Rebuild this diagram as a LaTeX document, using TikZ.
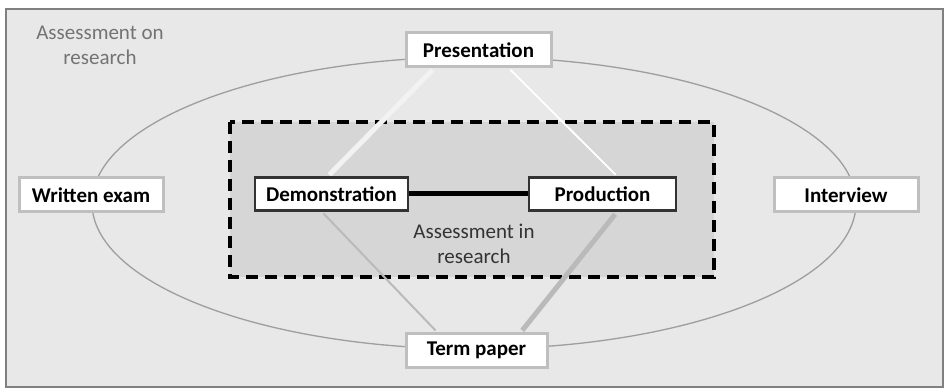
\documentclass[tikz,border=0pt]{standalone}
\usepackage{fontspec}
\setmainfont{Carlito}
\begin{document}
\begin{tikzpicture}[x=1pt,y=-1pt,
  outerbox/.style={draw=white!75!black,line width=3pt,fill=white,inner sep=0pt,minimum height=34pt,font=\bfseries\fontsize{21}{24}\selectfont},
  innerbox/.style={draw=black!80,line width=2.8pt,fill=white,inner sep=0pt,minimum height=33pt,font=\bfseries\fontsize{21}{24}\selectfont},
  note/.style={align=center,font=\fontsize{21}{25}\selectfont}]
\useasboundingbox (0,0) rectangle (948,390);
\fill[white] (0,0) rectangle (948,390);
\draw[draw=black!50,fill=black!9,line width=2pt] (6,9) rectangle (943,387);
\node[note,text=black!55] (aon) at (100,45) {Assessment on\\research};
\draw[black!38,line width=1.3pt] (474,203) ellipse [x radius=382, y radius=146];
\draw[fill=black!16,dash pattern=on 12pt off 7pt,line width=3.2pt] (230,122) rectangle (714,277);
\node[note,text=black!80] (ain) at (474,244) {Assessment in\\research};
\node[outerbox,minimum width=145pt] (pres) at (478.5,50) {Presentation};
\node[outerbox,minimum width=144pt] (wex) at (91,195) {Written exam};
\node[outerbox,minimum width=144pt] (int) at (846,195) {Interview};
\node[outerbox,minimum width=141pt] (term) at (476.5,350.5) {Term paper};
\node[innerbox,minimum width=153pt] (demo) at (331.5,194) {Demonstration};
\node[innerbox,minimum width=147pt] (prod) at (602.5,194) {Production};
\draw[black,line width=5pt] (demo.east) -- (prod.east -| prod.west);
\draw[black!5,line width=5pt,shorten <=2pt,shorten >=2pt] (pres.south -| 434,0) -- (demo.north -| 328,0);
\draw[white,line width=1.8pt,shorten <=2pt,shorten >=2pt] (pres.south -| 509,0) -- (prod.north -| 617,0);
\draw[black!27,line width=2pt,shorten <=2pt,shorten >=2pt] (demo.south -| 322,0) -- (term.north -| 437,0);
\draw[black!27,line width=5pt,shorten <=3pt,shorten >=2pt] (prod.south -| 617,0) -- (term.north -| 521,0);
\node[outerbox,minimum width=145pt] at (pres) {Presentation};
\node[outerbox,minimum width=141pt] at (term) {Term paper};
\node[innerbox,minimum width=153pt] at (demo) {Demonstration};
\node[innerbox,minimum width=147pt] at (prod) {Production};
\end{tikzpicture}
\end{document}
